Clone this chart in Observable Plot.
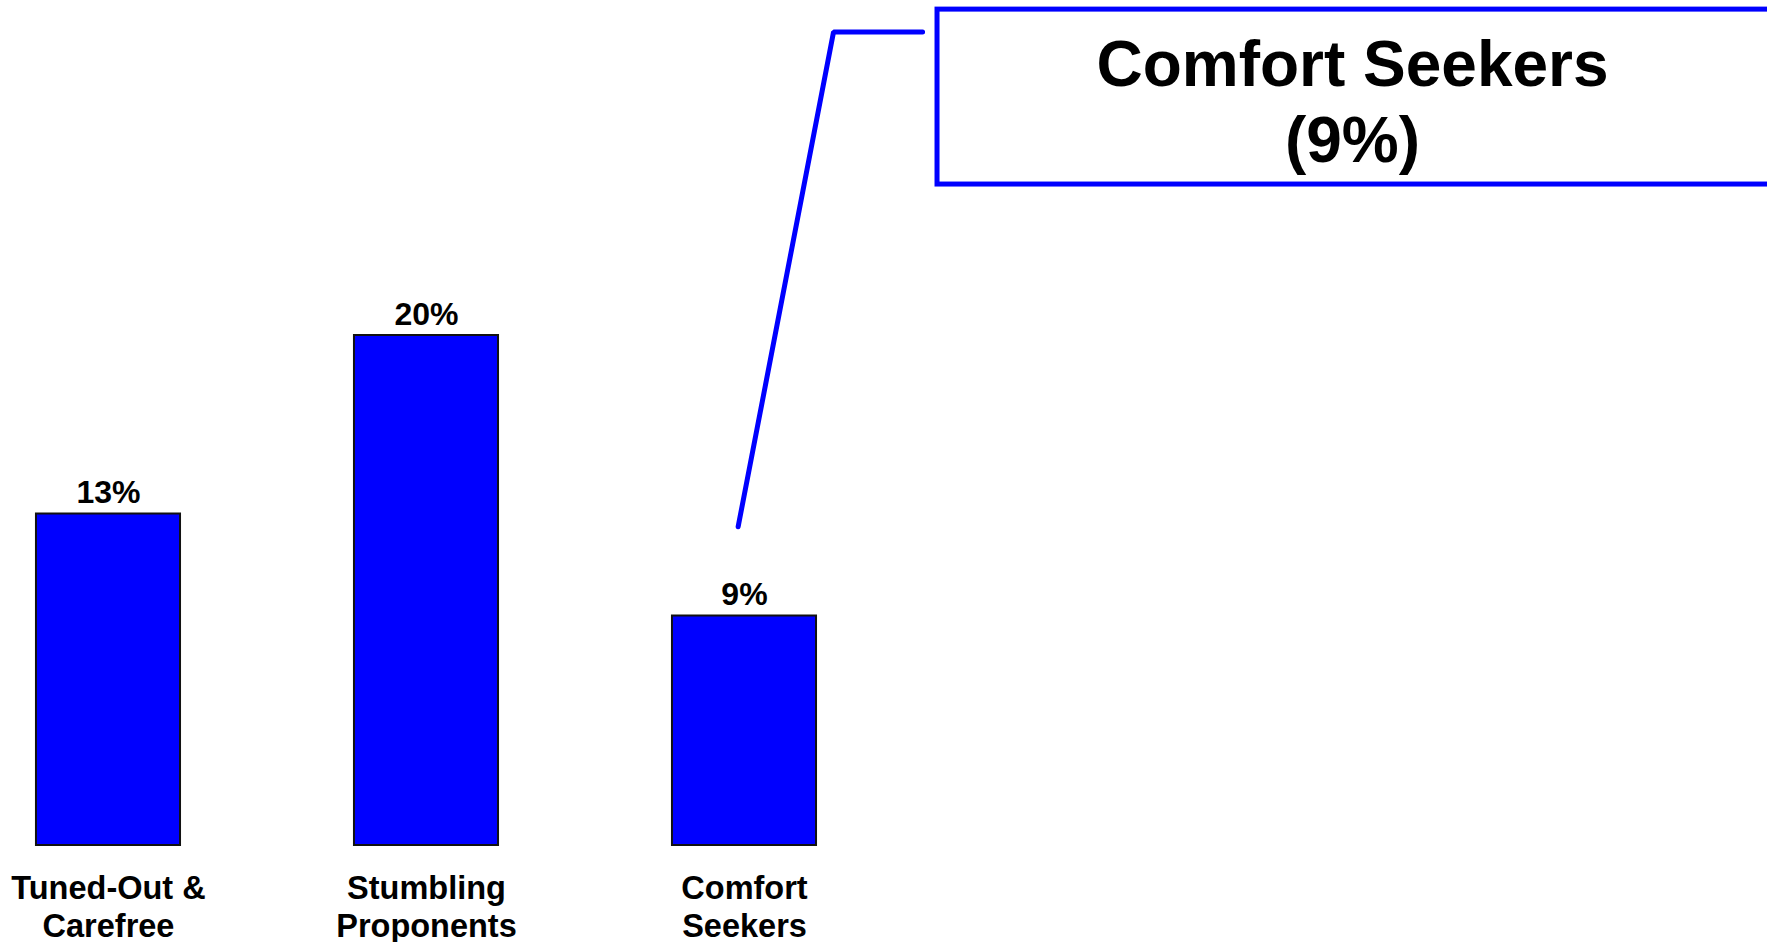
<!DOCTYPE html>
<html>
<head>
<meta charset="utf-8">
<script src="https://cdn.jsdelivr.net/npm/d3@7"></script>
<script src="https://cdn.jsdelivr.net/npm/@observablehq/plot@0.6"></script>
<style>
  html, body { margin: 0; padding: 0; background: #fff; }
  #chart svg { display: block; }
</style>
</head>
<body>
<div id="chart"></div>
<script>
// Data
const categories = ["Tuned-Out &\nCarefree", "Stumbling\nProponents", "Comfort\nSeekers"];
const values = [13, 20, 9];
const valueLabels = ["13%", "20%", "9%"];

// Callout (data coordinates: x in category index units, y in %)
const calloutTitle = "Comfort Seekers\n(9%)";
const leaderX = [1.98, 2.28, 2.56];
const leaderY = [12.5, 31.9, 31.9];
const boxX = [2.607, 5.25];
const boxY = [25.92, 32.78];

const bars = categories.map((c, i) => ({i, c, v: values[i], label: valueLabels[i]}));
const leader = leaderX.map((x, k) => ({x, y: leaderY[k]}));

const font = "'Liberation Sans', Arial, Helvetica, sans-serif";
const halfBar = 0.2265;

const chart = Plot.plot({
  width: 1767,
  height: 942,
  marginTop: 0, marginRight: 0, marginBottom: 0, marginLeft: 0,
  style: {fontFamily: font, background: "#fff"},
  x: {type: "linear", domain: [-0.3396, 5.217], range: [0, 1767], axis: null},
  y: {domain: [0, 845 / 25.5], range: [845, 0], axis: null},
  marks: [
    Plot.rectY(bars, {x1: d => d.i - halfBar, x2: d => d.i + halfBar, y1: 0, y2: "v",
      fill: "#0000FF", stroke: "#111", strokeWidth: 2}),
    Plot.text(bars, {x: "i", y: "v", text: "label", dy: -11, lineAnchor: "bottom",
      fontSize: 32, fontWeight: "bold", fill: "#000"}),
    Plot.text(bars, {x: "i", y: 0, text: "c", dy: 27, lineAnchor: "top",
      fontSize: 32.5, fontWeight: "bold", fill: "#000", lineHeight: 1.16}),
    Plot.line(leader, {x: "x", y: "y", stroke: "#0000FF", strokeWidth: 5, strokeLinejoin: "miter"}),
    Plot.rect([{x1: boxX[0], x2: boxX[1], y1: boxY[0], y2: boxY[1]}],
      {x1: "x1", x2: "x2", y1: "y1", y2: "y2", fill: "none", stroke: "#0000FF", strokeWidth: 5}),
    Plot.text([calloutTitle], {x: 3.912, y: boxY[1], text: d => d, dy: 22, lineAnchor: "top",
      fontSize: 64, fontWeight: "bold", fill: "#000", lineHeight: 1.19})
  ]
});
document.getElementById("chart").appendChild(chart);
</script>
</body>
</html>
